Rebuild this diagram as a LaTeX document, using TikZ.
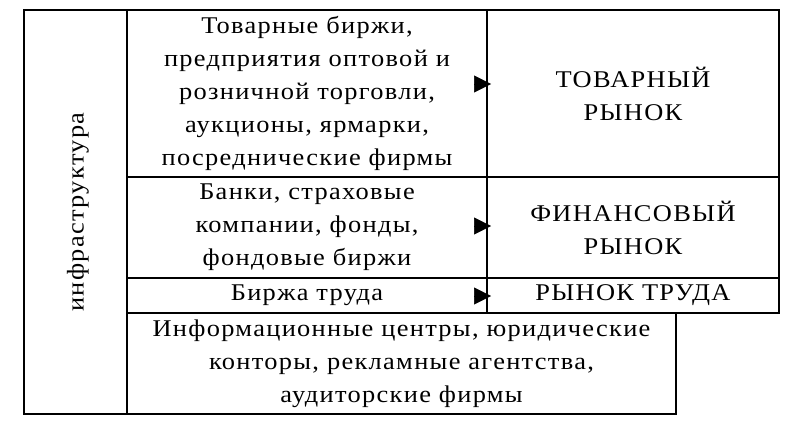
\documentclass[tikz,border=0pt]{standalone}
\usepackage{fontspec}
\setmainfont{Liberation Serif}[FakeStretch=1.1,LetterSpace=5.5]
\usetikzlibrary{arrows.meta}
\begin{document}
\begin{tikzpicture}[x=1pt,y=-1pt,
  cell/.style={draw=black, line width=2pt, inner sep=0pt, outer sep=0pt, align=center,
    font=\fontsize{24}{33}\selectfont, text=black},
  arr/.style={line width=0.5pt, -{Triangle[length=17pt,width=17pt]}}]
\useasboundingbox (0,0) rectangle (801,436);
\node[cell, minimum width=103pt, minimum height=404pt] (infra) at (75.5,212) {};
\node[cell, rotate=90, draw=none] (infratext) at (78,212) {инфраструктура};
\node[cell, minimum width=360pt, minimum height=167pt] (c1) at (307,93.5)
  {Товарные биржи,\\предприятия оптовой и\\розничной торговли,\\аукционы, ярмарки,\\посреднические фирмы};
\node[cell, minimum width=292pt, minimum height=167pt] (r1) at (633,93.5) {ТОВАРНЫЙ\\РЫНОК};
\node[cell, minimum width=360pt, minimum height=101pt] (c2) at (307,227.5)
  {Банки, страховые\\компании, фонды,\\фондовые биржи};
\node[cell, minimum width=292pt, minimum height=101pt] (r2) at (633,227.5) {ФИНАНСОВЫЙ\\РЫНОК};
\node[cell, minimum width=360pt, minimum height=35pt] (c3) at (307,295.5) {Биржа труда};
\node[cell, minimum width=292pt, minimum height=35pt] (r3) at (633,295.5) {РЫНОК ТРУДА};
\node[cell, minimum width=549pt, minimum height=101pt] (c4) at (401.5,363.5)
  {Информационные центры, юридические\\конторы, рекламные агентства,\\аудиторские фирмы};
\coordinate (a1) at (474,84);  \coordinate (b1) at (491,84);
\coordinate (a2) at (474,226); \coordinate (b2) at (491,226);
\coordinate (a3) at (474,296); \coordinate (b3) at (491,296);
\draw[arr] (a1) -- (b1);
\draw[arr] (a2) -- (b2);
\draw[arr] (a3) -- (b3);
\end{tikzpicture}
\end{document}
